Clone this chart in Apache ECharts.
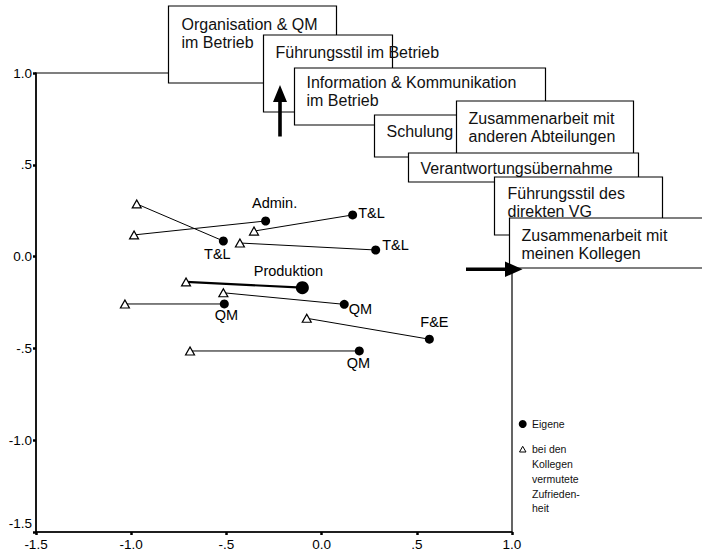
<!DOCTYPE html>
<html>
<head>
<meta charset="utf-8">
<script src="https://cdn.jsdelivr.net/npm/echarts@6/dist/echarts.min.js"></script>
<style>
html,body{margin:0;padding:0;background:#fff;}
#chart{width:702px;height:555px;}
</style>
</head>
<body>
<div id="chart"></div>
<script>
// ---- data ----
const groups = ['T&L', 'Admin.', 'T&L', 'T&L', 'Produktion', 'QM', 'QM', 'F&E', 'QM'];
const ownX = [-0.516, -0.294, 0.163, 0.284, -0.101, 0.119, -0.511, 0.566, 0.198];
const ownY = [0.085, 0.194, 0.227, 0.036, -0.169, -0.260, -0.258, -0.450, -0.514];
const colleagueX = [-0.971, -0.985, -0.355, -0.429, -0.712, -0.516, -1.033, -0.078, -0.691];
const colleagueY = [0.287, 0.118, 0.139, 0.074, -0.138, -0.197, -0.258, -0.336, -0.514];
const xTickLabels = ['-1.5', '-1.0', '-.5', '0.0', '.5', '1.0'];
const yTickLabels = ['-1.5', '-1.0', '-.5', '0.0', '.5', '1.0'];
const seriesNames = ['Eigene', 'bei den\nKollegen\nvermutete\nZufrieden-\nheit'];
const boxTexts = [
  'Organisation & QM\nim Betrieb',
  'Führungsstil im Betrieb',
  'Information & Kommunikation\nim Betrieb',
  'Schulung',
  'Zusammenarbeit mit\nanderen Abteilungen',
  'Verantwortungsübernahme',
  'Führungsstil des\ndirekten VG',
  'Zusammenarbeit mit\nmeinen Kollegen'
];

// ---- styles / layout ----
const FONT = "'Liberation Sans', Arial, Helvetica, sans-serif";
const labelPlacement = [
  {position: 'bottom', distance: 1, offset: [-6, 0]},
  {position: 'top', distance: 6, offset: [9, 0]},
  {position: 'right', distance: 1, offset: [0, -2]},
  {position: 'right', distance: 2, offset: [0, -5]},
  {position: 'top', distance: 3, offset: [-14, 0]},
  {position: 'right', distance: 0, offset: [0, 5]},
  {position: 'bottom', distance: -1, offset: [2, 0]},
  {position: 'top', distance: 5, offset: [5, 0]},
  {position: 'bottom', distance: 0, offset: [-1, 0]}
];
const emphasized = [false, false, false, false, true, false, false, false, false];

const boxLayout = [
  {x: 168.5, y: 6, w: 168, h: 77, tx: 181.5, ty: 24},
  {x: 263.5, y: 35, w: 129, h: 77, tx: 275.5, ty: 52},
  {x: 294.5, y: 68, w: 251, h: 57, tx: 306.5, ty: 82},
  {x: 374.5, y: 115, w: 100, h: 42, tx: 386.5, ty: 131},
  {x: 456.5, y: 101, w: 177, h: 54, tx: 468.5, ty: 118.5},
  {x: 408.5, y: 153, w: 230, h: 29, tx: 420.5, ty: 168},
  {x: 494.5, y: 177, w: 168, h: 58, tx: 507.5, ty: 193.5},
  {x: 509.5, y: 218, w: 200, h: 50, tx: 521.5, ty: 235.5}
];

const chart = echarts.init(document.getElementById('chart'), null, {renderer: 'svg'});

function tickFmt(labels) {
  return function (v) {
    const i = Math.round((v + 1.5) / 0.5);
    return labels[i] !== undefined ? labels[i] : '';
  };
}

const labelBase = {color: '#000', fontSize: 14.5, fontFamily: FONT};

const series = [];
for (let i = 0; i < groups.length; i++) {
  series.push({
    type: 'line',
    data: [[colleagueX[i], colleagueY[i]], [ownX[i], ownY[i]]],
    symbol: 'none',
    silent: true,
    z: 2,
    lineStyle: {color: '#000', width: emphasized[i] ? 2.2 : 1, opacity: 1},
    animation: false
  });
}
series.push({
  name: seriesNames[1],
  type: 'scatter',
  z: 3,
  symbol: 'triangle',
  symbolSize: [9, 8],
  itemStyle: {color: '#fff', borderColor: '#000', borderWidth: 1.2, opacity: 1},
  data: colleagueX.map((x, i) => [x, colleagueY[i]]),
  animation: false
});
series.push({
  name: seriesNames[0],
  type: 'scatter',
  z: 4,
  symbol: 'circle',
  itemStyle: {color: '#000', opacity: 1},
  data: ownX.map((x, i) => ({
    value: [x, ownY[i]],
    name: groups[i],
    symbolSize: emphasized[i] ? 13 : 9,
    label: Object.assign({show: true, formatter: groups[i]}, labelBase, labelPlacement[i])
  })),
  label: labelBase,
  animation: false
});

const graphics = [];
boxLayout.forEach((b, i) => {
  graphics.push({
    type: 'rect', z: 100 + i * 2, silent: true,
    shape: {x: b.x, y: b.y, width: b.w, height: b.h},
    style: {fill: '#fff', stroke: '#000', lineWidth: 1.2}
  });
  graphics.push({
    type: 'text', z: 101 + i * 2, silent: true,
    style: {
      x: b.tx, y: b.ty - 9.2, text: boxTexts[i],
      font: '16px ' + FONT, fill: '#111', lineHeight: 18.4,
      verticalAlign: 'top', align: 'left'
    }
  });
});
// arrows
graphics.push({
  type: 'polygon', z: 200, silent: true,
  shape: {points: [[278.2, 136.5], [281.8, 136.5], [281.8, 102], [287, 102], [280, 85], [273, 102], [278.2, 102]]},
  style: {fill: '#000'}
});
graphics.push({
  type: 'polygon', z: 200, silent: true,
  shape: {points: [[466, 267.5], [505, 267.5], [505, 261.5], [522.5, 269.2], [505, 277], [505, 271], [466, 271]]},
  style: {fill: '#000'}
});
// legend
graphics.push({type: 'circle', z: 200, silent: true, shape: {cx: 522.7, cy: 424, r: 4}, style: {fill: '#000'}});
graphics.push({
  type: 'text', z: 200, silent: true,
  style: {x: 532, y: 424, text: seriesNames[0], font: '10.5px ' + FONT, fill: '#111', verticalAlign: 'middle'}
});
graphics.push({
  type: 'polygon', z: 200, silent: true,
  shape: {points: [[519.5, 452], [526, 452], [522.7, 446.3]]},
  style: {fill: '#fff', stroke: '#000', lineWidth: 1}
});
graphics.push({
  type: 'text', z: 200, silent: true,
  style: {x: 532, y: 442, text: seriesNames[1], font: '10.5px ' + FONT, fill: '#111', lineHeight: 14.75, verticalAlign: 'top'}
});

const axisCommon = {
  type: 'value',
  min: -1.5, max: 1.0, interval: 0.5,
  splitLine: {show: false},
  axisLine: {show: true, onZero: false, lineStyle: {color: '#000', width: 1.5}},
  axisTick: {show: true, length: 3, lineStyle: {color: '#000', width: 2.5}},
};

chart.setOption({
  animation: false,
  backgroundColor: '#fff',
  grid: {left: 36, top: 73, right: 190, bottom: 23, show: true, borderColor: '#000', borderWidth: 1.2, containLabel: false},
  xAxis: Object.assign({}, axisCommon, {
    axisLabel: {color: '#000', fontSize: 13.5, fontFamily: FONT, margin: 5, showMinLabel: true, showMaxLabel: true, formatter: tickFmt(xTickLabels)}
  }),
  yAxis: Object.assign({}, axisCommon, {
    axisLabel: {
      color: '#000', fontSize: 13.5, fontFamily: FONT, margin: 4, showMinLabel: true, showMaxLabel: true,
      formatter: function (v) {
        const s = tickFmt(yTickLabels)(v);
        return Math.abs(v + 1.5) < 1e-9 ? '{low|' + s + '}' : s;
      },
      rich: {low: {color: '#000', fontSize: 13.5, fontFamily: FONT, padding: [0, 0, 18, 0]}}
    }
  }),
  series: series,
  graphic: graphics
});
</script>
</body>
</html>
